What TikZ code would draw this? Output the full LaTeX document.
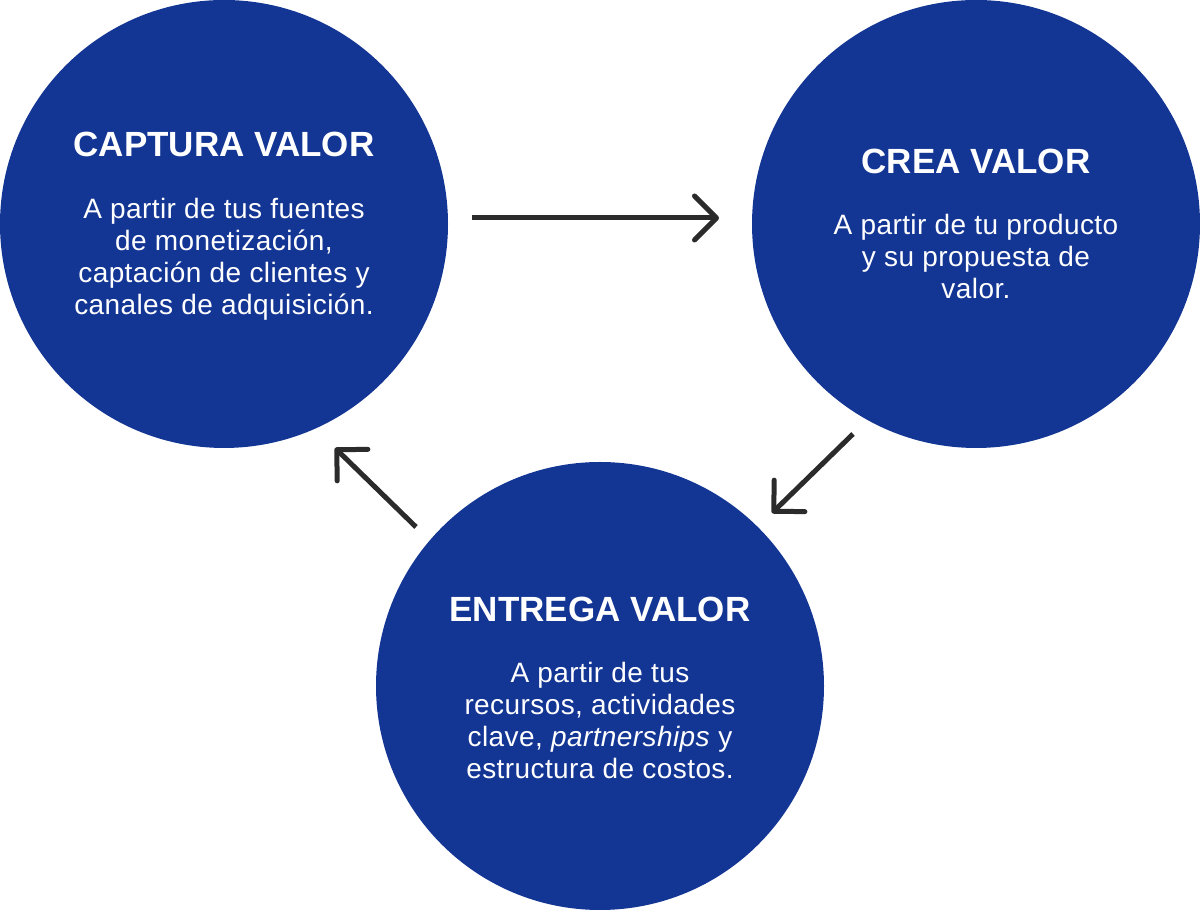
\documentclass[tikz,border=0pt]{standalone}
\usepackage{fontspec}
\setmainfont{Liberation Sans}
\newfontfamily\textofont[LetterSpace=1.5]{Liberation Sans}
\usetikzlibrary{arrows.meta,positioning}
\definecolor{valorblue}{HTML}{133594}
\definecolor{arrowgray}{HTML}{2B2B2B}

\begin{document}
\begin{tikzpicture}[x=1pt, y=1pt,
    disc/.style={circle, fill=valorblue, minimum size=448pt, inner sep=0pt},
    heading/.style={text=white, font=\fontsize{35}{42}\selectfont\bfseries, anchor=base, inner sep=0pt},
    blurb/.style={text=white, align=center, font=\textofont\fontsize{28}{32}\selectfont, anchor=base, inner sep=0pt},
    flow/.style={draw=arrowgray, line width=5pt, -{Straight Barb[length=22pt, width=44pt, line cap=round, line join=round]}}]
  \useasboundingbox (0,0) rectangle (1200,910);
  % the three circles
  \node[disc] (capt) at (224,686) {};
  \node[disc] (crea) at (976,686) {};
  \node[disc] (entr) at (600,224) {};
  % texts (base = last line)
  \node[heading] (captT) at (224,753) {CAPTURA VALOR};
  \node[blurb] (captB) at (224,595) {A partir de tus fuentes\\de monetización,\\captación de clientes y\\canales de adquisición.};
  \node[heading] (creaT) at (976,736) {CREA VALOR};
  \node[blurb] (creaB) at (976,611) {A partir de tu producto\\y su propuesta de\\valor.};
  \node[heading] (entrT) at (600,288) {ENTREGA VALOR};
  \node[blurb] (entrB) at (600,131) {A partir de tus\\recursos, actividades\\clave, \textit{partnerships} y\\estructura de costos.};
  % arrows
  \coordinate (c1a) at (472,692);
  \coordinate (c1b) at (719,692);
  \coordinate (c2a) at (853,476);
  \coordinate (c2b) at (772,397);
  \coordinate (c3a) at (416,383);
  \coordinate (c3b) at (335,462);
  \draw[flow] (c1a) -- (c1b);
  \draw[flow] (c2a) -- (c2b);
  \draw[flow] (c3a) -- (c3b);
\end{tikzpicture}
\end{document}
